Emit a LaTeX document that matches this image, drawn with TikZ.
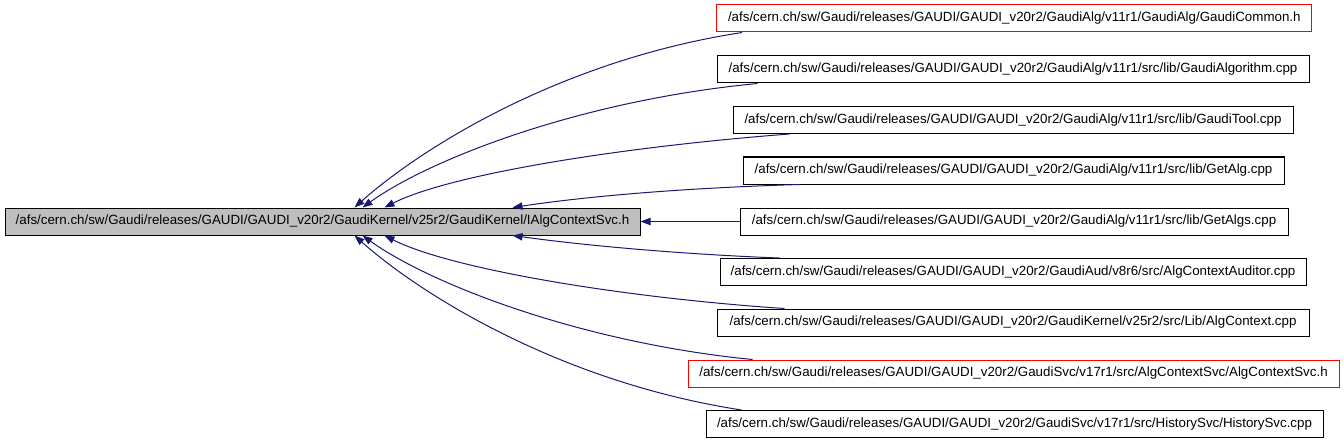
\documentclass[tikz,border=0pt]{standalone}
\usepackage{fontspec}
\setmainfont{Liberation Sans}
\usetikzlibrary{arrows.meta,calc}
\definecolor{edgeblue}{RGB}{25,25,112}
\definecolor{maingray}{RGB}{191,191,191}
\begin{document}
\begin{tikzpicture}[x=0.75pt,y=-0.75pt,
  box/.style={draw=black,line width=0.75pt,rectangle,inner sep=0pt,minimum height=20.25pt,font=\fontsize{10}{12}\selectfont},
  redbox/.style={box,draw=red},
  dep/.style={draw=edgeblue,line width=0.75pt,{Triangle[length=7.5pt,width=5.5pt]}-}]
\useasboundingbox (0,0) rectangle (1344,442);
\node[box,fill=maingray,minimum width=476.25pt] (main) at (322.5,221.5) {/afs/cern.ch/sw/Gaudi/releases/GAUDI/GAUDI\_v20r2/GaudiKernel/v25r2/GaudiKernel/IAlgContextSvc.h};
\node[redbox,minimum width=446.5pt] (n1) at (1014.3,18.5) {/afs/cern.ch/sw/Gaudi/releases/GAUDI/GAUDI\_v20r2/GaudiAlg/v11r1/GaudiAlg/GaudiCommon.h};
\node[box,minimum width=444pt] (n2) at (1013,69.5) {/afs/cern.ch/sw/Gaudi/releases/GAUDI/GAUDI\_v20r2/GaudiAlg/v11r1/src/lib/GaudiAlgorithm.cpp};
\node[box,minimum width=420pt] (n3) at (1013,120) {/afs/cern.ch/sw/Gaudi/releases/GAUDI/GAUDI\_v20r2/GaudiAlg/v11r1/src/lib/GaudiTool.cpp};
\node[box,minimum width=405.75pt] (n4) at (1013.5,170.5) {/afs/cern.ch/sw/Gaudi/releases/GAUDI/GAUDI\_v20r2/GaudiAlg/v11r1/src/lib/GetAlg.cpp};
\node[box,minimum width=411pt] (n5) at (1014,221.5) {/afs/cern.ch/sw/Gaudi/releases/GAUDI/GAUDI\_v20r2/GaudiAlg/v11r1/src/lib/GetAlgs.cpp};
\node[box,minimum width=439.5pt] (n6) at (1013,272) {/afs/cern.ch/sw/Gaudi/releases/GAUDI/GAUDI\_v20r2/GaudiAud/v8r6/src/AlgContextAuditor.cpp};
\node[box,minimum width=444pt] (n7) at (1013,322.5) {/afs/cern.ch/sw/Gaudi/releases/GAUDI/GAUDI\_v20r2/GaudiKernel/v25r2/src/Lib/AlgContext.cpp};
\node[redbox,minimum width=488.25pt] (n8) at (1013.5,373.5) {/afs/cern.ch/sw/Gaudi/releases/GAUDI/GAUDI\_v20r2/GaudiSvc/v17r1/src/AlgContextSvc/AlgContextSvc.h};
\node[box,minimum width=462.75pt] (n9) at (1014.5,424) {/afs/cern.ch/sw/Gaudi/releases/GAUDI/GAUDI\_v20r2/GaudiSvc/v17r1/src/HistorySvc/HistorySvc.cpp};
\draw[dep] ($(main.north west)+(350,0)$) .. controls +(65,-58) and +(-183,28) .. ($(n1.south west)+(26,0)$);
\draw[dep] ($(main.north west)+(358,0)$) .. controls +(67,-48) and +(-178,17) .. ($(n2.south west)+(41,0)$);
\draw[dep] ($(main.north west)+(380,0)$) .. controls +(65,-33) and +(-170,13) .. ($(n3.south west)+(57,0)$);
\draw[dep] ($(main.north west)+(508,0)$) .. controls +(87,-13) and +(-100,3) .. ($(n4.south west)+(57,0)$);
\draw[dep] (main.east) -- (n5.west);
\draw[dep] ($(main.south west)+(508,0)$) .. controls +(87,12) and +(-80,-3) .. ($(n6.north west)+(60,0)$);
\draw[dep] ($(main.south west)+(380,0)$) .. controls +(65,33) and +(-165,-11) .. ($(n7.north west)+(68,0)$);
\draw[dep] ($(main.south west)+(358,0)$) .. controls +(67,48) and +(-173,-17) .. ($(n8.north west)+(65,0)$);
\draw[dep] ($(main.south west)+(350,0)$) .. controls +(65,58) and +(-182,-28) .. ($(n9.north west)+(36,0)$);
\end{tikzpicture}
\end{document}
